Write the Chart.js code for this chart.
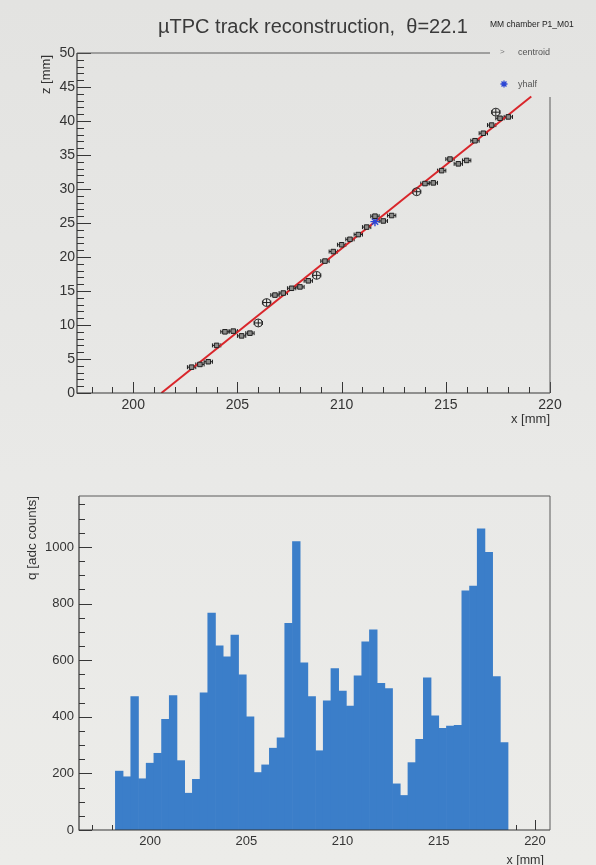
<!DOCTYPE html>
<html>
<head>
<meta charset="utf-8">
<script src="https://cdn.jsdelivr.net/npm/chart.js@4.4.1/dist/chart.umd.min.js"></script>
<style>
  html, body { margin: 0; padding: 0; }
  body {
    width: 596px; height: 865px; overflow: hidden; position: relative;
    background: linear-gradient(#e3e3e1, #e9e9e7 55%, #ecece9);
  }
  canvas { position: absolute; left: 0; }
  #trackChart { top: 0; }
  #chargeChart { top: 440px; }
</style>
</head>
<body>
<canvas id="trackChart" width="596" height="440"></canvas>
<canvas id="chargeChart" width="596" height="425"></canvas>
<script>
// ---- data ----
// top panel: reconstructed hits (x strip position, z drift)
const centroidX = [202.8, 203.2, 203.6, 204.0, 204.4, 204.8, 205.2, 205.6, 206.8, 207.2, 207.6, 208.0, 208.4,
                   209.2, 209.6, 210.0, 210.4, 210.8, 211.2, 211.6, 212.0, 212.4, 214.0, 214.4, 214.8, 215.2,
                   215.6, 216.0, 216.4, 216.8, 217.2, 217.6, 218.0];
const centroidZ = [3.8, 4.2, 4.6, 7.0, 9.0, 9.1, 8.4, 8.8, 14.4, 14.7, 15.4, 15.6, 16.5,
                   19.4, 20.8, 21.8, 22.6, 23.3, 24.4, 26.0, 25.3, 26.1, 30.8, 30.9, 32.7, 34.4,
                   33.7, 34.2, 37.1, 38.2, 39.4, 40.4, 40.6];
// hits drawn with the circled marker
const circledX = [206.0, 206.4, 208.8, 213.6, 217.4];
const circledZ = [10.3, 13.3, 17.3, 29.6, 41.3];
const yhalfX = [211.6];
const yhalfZ = [25.2];
// straight line fit
const fitX = [201.35, 219.1];
const fitZ = [0, 43.6];

// bottom panel: charge per strip (0.4 mm strips)
const stripX = [198.4, 198.8, 199.2, 199.6, 200.0, 200.4, 200.8, 201.2, 201.6, 202.0, 202.4, 202.8, 203.2,
                203.6, 204.0, 204.4, 204.8, 205.2, 205.6, 206.0, 206.4, 206.8, 207.2, 207.6, 208.0, 208.4,
                208.8, 209.2, 209.6, 210.0, 210.4, 210.8, 211.2, 211.6, 212.0, 212.4, 212.8, 213.2, 213.6,
                214.0, 214.4, 214.8, 215.2, 215.6, 216.0, 216.4, 216.8, 217.2, 217.6, 218.0, 218.4];
const stripQ = [208, 188, 471, 181, 236, 271, 391, 475, 245, 130, 179, 485, 766,
                651, 612, 689, 548, 400, 203, 230, 289, 326, 730, 1019, 591, 471,
                280, 456, 570, 491, 438, 545, 665, 707, 518, 500, 163, 122, 238,
                320, 538, 403, 359, 367, 370, 845, 862, 1064, 981, 542, 309];

// tick labels
const trackXTicks = [200, 205, 210, 215, 220];
const trackZTicks = [0, 5, 10, 15, 20, 25, 30, 35, 40, 45, 50];
const chargeXTicks = [200, 205, 210, 215, 220];
const chargeQTicks = [0, 200, 400, 600, 800, 1000];

Chart.defaults.font.family = "'Liberation Sans', Arial, sans-serif";
Chart.defaults.color = '#333';

const ink = '#363636';

// ROOT style frame with ticks pointing inside
const rootAxes = {
  id: 'rootAxes',
  beforeDatasetsDraw(chart, args, o) {
    const { ctx, chartArea: a, scales: { x, y } } = chart;
    ctx.save();
    ctx.strokeStyle = ink;
    ctx.lineWidth = 1;
    ctx.beginPath();
    for (let i = Math.ceil(x.min / o.xMinor - 1e-6); i * o.xMinor <= x.max + 1e-6; i++) {
      const v = i * o.xMinor;
      const major = Math.abs(v / o.xMajor - Math.round(v / o.xMajor)) < 1e-6;
      const px = Math.round(x.getPixelForValue(v)) + 0.5;
      ctx.moveTo(px, a.bottom);
      ctx.lineTo(px, a.bottom - (major ? o.xMajorLen : o.xMinorLen));
    }
    for (let i = Math.ceil(y.min / o.yMinor - 1e-6); i * o.yMinor <= y.max + 1e-6; i++) {
      const v = i * o.yMinor;
      const major = Math.abs(v / o.yMajor - Math.round(v / o.yMajor)) < 1e-6;
      const py = Math.round(y.getPixelForValue(v)) + 0.5;
      ctx.moveTo(a.left, py);
      ctx.lineTo(a.left + (major ? o.yMajorLen : o.yMinorLen), py);
    }
    ctx.stroke();
    ctx.restore();
  },
  afterDatasetsDraw(chart, args, o) {
    const { ctx, chartArea: a } = chart;
    ctx.save();
    ctx.strokeStyle = ink;
    ctx.lineWidth = 1.2;
    ctx.beginPath();
    ctx.moveTo(a.left, a.top);
    ctx.lineTo(a.left, a.bottom);
    ctx.lineTo(a.right, a.bottom);
    ctx.stroke();
    ctx.strokeStyle = '#5a5a5a';
    ctx.lineWidth = 1;
    ctx.beginPath();
    ctx.moveTo(a.left, a.top);
    ctx.lineTo(o.topEnd || a.right, a.top);
    ctx.moveTo(a.right, o.rightStart || a.top);
    ctx.lineTo(a.right, a.bottom);
    ctx.stroke();
    ctx.restore();
  }
};

// horizontal strip-width error bars under the hit markers
const errorBars = {
  id: 'errorBars',
  beforeDatasetsDraw(chart, args, o) {
    const { ctx, scales: { x, y } } = chart;
    ctx.save();
    ctx.strokeStyle = '#1e1e1e';
    ctx.lineWidth = 1;
    ctx.beginPath();
    const bar = (xs, zs, dz) => {
      xs.forEach((xv, i) => {
        const l = x.getPixelForValue(xv - o.dx);
        const r = x.getPixelForValue(xv + o.dx);
        const py = y.getPixelForValue(zs[i]);
        ctx.moveTo(l, py); ctx.lineTo(r, py);
        ctx.moveTo(l, py - 2); ctx.lineTo(l, py + 2);
        ctx.moveTo(r, py - 2); ctx.lineTo(r, py + 2);
        if (dz) {
          const px = x.getPixelForValue(xv);
          ctx.moveTo(px, y.getPixelForValue(zs[i] - dz));
          ctx.lineTo(px, y.getPixelForValue(zs[i] + dz));
        }
      });
    };
    bar(centroidX, centroidZ, 0);
    bar(circledX, circledZ, 0.55);
    ctx.stroke();
    ctx.restore();
  }
};

// free text and legend
const texts = {
  id: 'texts',
  afterDraw(chart, args, o) {
    const { ctx } = chart;
    ctx.save();
    (o.items || []).forEach(t => {
      ctx.save();
      ctx.font = t.font;
      ctx.fillStyle = t.color || '#333';
      ctx.textAlign = t.align || 'left';
      ctx.textBaseline = 'middle';
      ctx.translate(t.x, t.y);
      if (t.rotate) ctx.rotate(t.rotate);
      ctx.fillText(t.text, 0, 0);
      ctx.restore();
    });
    if (o.legend) {
      // yhalf star marker
      ctx.strokeStyle = '#2b45d4';
      ctx.lineWidth = 1.3;
      ctx.beginPath();
      const sx = 504, sy = 84, r = 3.5;
      for (let k = 0; k < 4; k++) {
        const ang = k * Math.PI / 4;
        ctx.moveTo(sx - r * Math.cos(ang), sy - r * Math.sin(ang));
        ctx.lineTo(sx + r * Math.cos(ang), sy + r * Math.sin(ang));
      }
      ctx.stroke();
    }
    ctx.restore();
  }
};

const F = "'Liberation Sans', Arial, sans-serif";

new Chart(document.getElementById('trackChart'), {
  type: 'scatter',
  data: {
    datasets: [
      {
        label: 'centroid',
        data: centroidX.map((x, i) => ({ x, y: centroidZ[i] })),
        pointStyle: 'rect', pointRadius: 3.2,
        backgroundColor: '#8c8c8a', borderColor: '#1e1e1e', borderWidth: 1
      },
      {
        label: 'centroid (wide)',
        data: circledX.map((x, i) => ({ x, y: circledZ[i] })),
        pointStyle: 'circle', pointRadius: 4,
        backgroundColor: 'rgba(0,0,0,0)', borderColor: '#2a2a2a', borderWidth: 1
      },
      {
        label: 'yhalf',
        data: yhalfX.map((x, i) => ({ x, y: yhalfZ[i] })),
        pointStyle: 'star', pointRadius: 4.5,
        borderColor: '#2b45d4', borderWidth: 1.4
      },
      {
        label: 'fit',
        data: fitX.map((x, i) => ({ x, y: fitZ[i] })),
        showLine: true, borderColor: '#d9262b', borderWidth: 2, pointRadius: 0
      }
    ]
  },
  options: {
    responsive: false,
    animation: false,
    layout: { padding: { left: 0, top: 53, right: 46, bottom: 0 } },
    plugins: {
      legend: { display: false },
      tooltip: { enabled: false },
      rootAxes: { xMinor: 1, xMajor: 5, xMinorLen: 6, xMajorLen: 11,
                  yMinor: 1, yMajor: 5, yMinorLen: 7, yMajorLen: 14,
                  topEnd: 490, rightStart: 97 },
      errorBars: { dx: 0.2 },
      texts: {
        legend: true,
        items: [
          { text: 'µTPC track reconstruction,  θ=22.1', x: 313, y: 27, align: 'center', font: `20px ${F}`, color: '#3a3a3a' },
          { text: 'MM chamber P1_M01', x: 490, y: 25, font: `8.5px ${F}`, color: '#222' },
          { text: '>', x: 500, y: 52, font: `8px ${F}`, color: '#777' },
          { text: 'centroid', x: 518, y: 53, font: `9px ${F}`, color: '#555' },
          { text: 'yhalf', x: 518, y: 85, font: `9px ${F}`, color: '#555' },
          { text: 'z [mm]', x: 46, y: 55, align: 'right', rotate: -Math.PI / 2, font: `13px ${F}`, color: '#333' },
          { text: 'x [mm]', x: 550, y: 419, align: 'right', font: `13px ${F}`, color: '#333' }
        ]
      }
    },
    scales: {
      x: {
        type: 'linear', min: 197.3, max: 220, offset: false,
        grid: { display: false, drawTicks: false }, border: { display: false },
        afterBuildTicks: s => { s.ticks = trackXTicks.map(v => ({ value: v })); },
        afterFit: s => { s.height = 47; },
        ticks: { padding: 4, autoSkip: false, maxRotation: 0, font: { size: 14 }, color: '#333', callback: v => String(v) }
      },
      y: {
        type: 'linear', min: 0, max: 50,
        grid: { display: false, drawTicks: false }, border: { display: false },
        afterBuildTicks: s => { s.ticks = trackZTicks.map(v => ({ value: v })); },
        afterFit: s => { s.width = 77; },
        ticks: { padding: 2, autoSkip: false, font: { size: 14 }, color: '#333', callback: v => String(v) }
      }
    }
  },
  plugins: [rootAxes, errorBars, texts]
});

new Chart(document.getElementById('chargeChart'), {
  type: 'bar',
  data: {
    datasets: [{
      label: 'q',
      data: stripX.map((x, i) => ({ x, y: stripQ[i] })),
      backgroundColor: '#3b7ec9',
      borderWidth: 0,
      barPercentage: 1,
      categoryPercentage: 1
    }]
  },
  options: {
    responsive: false,
    animation: false,
    layout: { padding: { left: 0, top: 56, right: 46, bottom: 0 } },
    plugins: {
      legend: { display: false },
      tooltip: { enabled: false },
      rootAxes: { xMinor: 1, xMajor: 5, xMinorLen: 5, xMajorLen: 10,
                  yMinor: 50, yMajor: 200, yMinorLen: 6, yMajorLen: 13 },
      texts: {
        items: [
          { text: 'q [adc counts]', x: 32, y: 56, align: 'right', rotate: -Math.PI / 2, font: `13.5px ${F}`, color: '#333' },
          { text: 'x [mm]', x: 544, y: 421, align: 'right', font: `12.5px ${F}`, color: '#333' }
        ]
      }
    },
    scales: {
      x: {
        type: 'linear', min: 196.31, max: 220.78, offset: false,
        grid: { display: false, drawTicks: false }, border: { display: false },
        afterBuildTicks: s => { s.ticks = chargeXTicks.map(v => ({ value: v })); },
        afterFit: s => { s.height = 35; },
        ticks: { padding: 4, autoSkip: false, maxRotation: 0, font: { size: 13 }, color: '#333', callback: v => String(v) }
      },
      y: {
        type: 'linear', min: 0, max: 1180,
        grid: { display: false, drawTicks: false }, border: { display: false },
        afterBuildTicks: s => { s.ticks = chargeQTicks.map(v => ({ value: v })); },
        afterFit: s => { s.width = 79; },
        ticks: { padding: 5, autoSkip: false, font: { size: 13 }, color: '#333', callback: v => String(v) }
      }
    }
  },
  plugins: [rootAxes, texts]
});
</script>
</body>
</html>
